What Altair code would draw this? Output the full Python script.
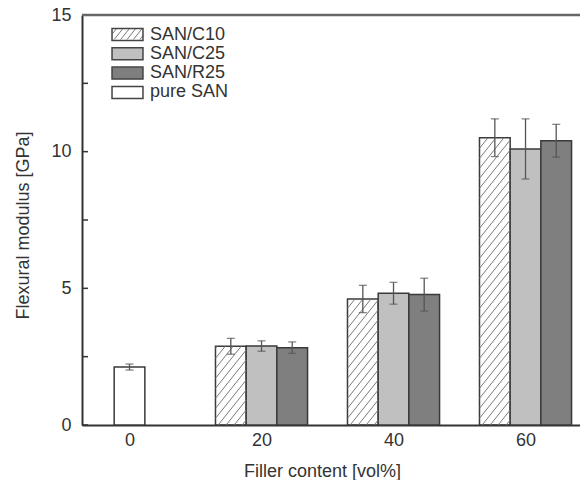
import altair as alt
import pandas as pd
import numpy as np

# ---------------- data ----------------
categories = [0, 20, 40, 60]
series = ["SAN/C10", "SAN/C25", "SAN/R25", "pure SAN"]
filled_cats = [20, 40, 60]
c10_vals = [2.88, 4.61, 10.51]
c10_err = [0.29, 0.50, 0.69]
c25_vals = [2.89, 4.82, 10.10]
c25_err = [0.19, 0.40, 1.10]
r25_vals = [2.83, 4.77, 10.40]
r25_err = [0.21, 0.60, 0.60]
pure_cats = [0]
pure_vals = [2.12]
pure_err = [0.11]
y_tick_labels = [0, 5, 10, 15]
y_minor_ticks = [0, 2.5, 5, 7.5, 10, 12.5, 15]
colors = ["transparent", "#c0c0c0", "#7f7f7f", "#ffffff"]

# ---------------- layout ----------------
W, H = 498, 410
PAD_L, PAD_T = 82, 15
XMIN = -7.2
PXX = 6.6                      # pixels per x unit
XMAX = XMIN + W / PXX
YMAX = 15
PXY = H / YMAX
BARW = 4.65
offsets = {"SAN/C10": -BARW, "SAN/C25": 0.0, "SAN/R25": BARW, "pure SAN": 0.0}

rows = []
for name, cats, vals, errs in [
    ("SAN/C10", filled_cats, c10_vals, c10_err),
    ("SAN/C25", filled_cats, c25_vals, c25_err),
    ("SAN/R25", filled_cats, r25_vals, r25_err),
    ("pure SAN", pure_cats, pure_vals, pure_err),
]:
    for c, v, e in zip(cats, vals, errs):
        xc = c + offsets[name]
        rows.append(dict(series=name, cat=c, xc=xc, x=xc - BARW / 2, x2=xc + BARW / 2,
                         base=0.0, val=v, lo=v - e, hi=v + e))
df = pd.DataFrame(rows)


def hatch(x0, x1, y0, y1, slope=1.25, step=10.0):
    u0 = (x0 - XMIN) * PXX
    w = (x1 - x0) * PXX
    v0 = y0 * PXY
    h = (y1 - y0) * PXY
    segs = []
    for c in np.arange(-slope * w + step * 0.5, h, step):
        us = max(0.0, -c / slope)
        ue = min(w, (h - c) / slope)
        if ue - us > 0.6:
            segs.append(dict(hx=XMIN + (u0 + us) / PXX, hy=(v0 + slope * us + c) / PXY,
                             hx2=XMIN + (u0 + ue) / PXX, hy2=(v0 + slope * ue + c) / PXY))
    return segs


hrows = []
for r in rows:
    if r["series"] == "SAN/C10":
        hrows += hatch(r["x"], r["x2"], 0.0, r["val"])
# legend swatch for SAN/C10 (pixel box relative to plot origin -> data units)
LSX0, LSX1, LSY0, LSY1 = 30.5, 61.0, 13.0, 24.5
hrows += hatch(XMIN + LSX0 / PXX, XMIN + LSX1 / PXX, (H - LSY1) / PXY, (H - LSY0) / PXY, step=8.0)
hdf = pd.DataFrame(hrows)

cap_df = pd.concat([df[["xc", "lo"]].rename(columns={"lo": "yv"}),
                    df[["xc", "hi"]].rename(columns={"hi": "yv"})])

xs = alt.Scale(domain=[XMIN, XMAX], nice=False, zero=False)
ys = alt.Scale(domain=[0, YMAX], nice=False, zero=False)

xaxis = alt.Axis(values=categories, title="Filler content [vol%]", ticks=False, tickSize=0,
                 labelPadding=6, titlePadding=13, titleX=240, grid=False,
                 domainColor="#333333", domainWidth=2, labelFlush=False)
yaxis = alt.Axis(values=y_tick_labels, title="Flexural modulus [GPa]", ticks=False, tickSize=0,
                 labelPadding=11, titlePadding=18, titleY=210, grid=False,
                 domainColor="#333333", domainWidth=2)

bars = alt.Chart(df).mark_rect(stroke="#3a3a3a", strokeWidth=1.5).encode(
    x=alt.X("x:Q", scale=xs, axis=xaxis),
    x2="x2:Q",
    y=alt.Y("val:Q", scale=ys, axis=yaxis),
    y2="base:Q",
    fill=alt.Fill("series:N", scale=alt.Scale(domain=series, range=colors), legend=alt.Legend(
        title=None, orient="none", legendX=36.5, legendY=10.5,
        symbolType="M-2.58,-1H2.58V1H-2.58Z", symbolSize=144, labelOffset=13.5,
        rowPadding=1.3, padding=0, symbolStrokeColor="#444444", symbolStrokeWidth=1.5,
        labelFontSize=18, labelFont="Liberation Sans", labelColor="#333333")),
)

hatch_layer = alt.Chart(hdf).mark_rule(color="#7a7a7a", strokeWidth=1).encode(
    x=alt.X("hx:Q", scale=xs, axis=xaxis), x2="hx2:Q",
    y=alt.Y("hy:Q", scale=ys, axis=yaxis), y2="hy2:Q",
)

err_rule = alt.Chart(df).mark_rule(color="#555555", strokeWidth=1.3).encode(
    x=alt.X("xc:Q", scale=xs, axis=xaxis),
    y=alt.Y("lo:Q", scale=ys, axis=yaxis), y2="hi:Q",
)

caps = alt.Chart(cap_df).mark_tick(orient="horizontal", size=8, thickness=1.3, color="#555555").encode(
    x=alt.X("xc:Q", scale=xs, axis=xaxis),
    y=alt.Y("yv:Q", scale=ys, axis=yaxis),
)

yticks = alt.Chart(pd.DataFrame({"t": y_minor_ticks})).mark_rule(color="#333333", strokeWidth=1.5).encode(
    y=alt.Y("t:Q", scale=ys, axis=yaxis), x=alt.value(0), x2=alt.value(6),
)

top_line = alt.Chart(pd.DataFrame({"t": [YMAX]})).mark_rule(color="#666666", strokeWidth=2.5).encode(
    y=alt.Y("t:Q", scale=ys, axis=yaxis),
)

chart = alt.layer(bars, hatch_layer, err_rule, caps, yticks, top_line).properties(
    width=W, height=H, autosize="none",
    padding={"left": PAD_L, "top": PAD_T, "right": 0, "bottom": 55},
).configure_view(stroke=None).configure_axis(
    labelFont="Liberation Sans", titleFont="Liberation Sans",
    labelFontSize=18, titleFontSize=18, labelColor="#333333", titleColor="#333333",
    titleFontWeight="normal",
).configure_legend(labelFont="Liberation Sans")

chart.save("out.html", embed_options={"renderer": "svg", "actions": False})
